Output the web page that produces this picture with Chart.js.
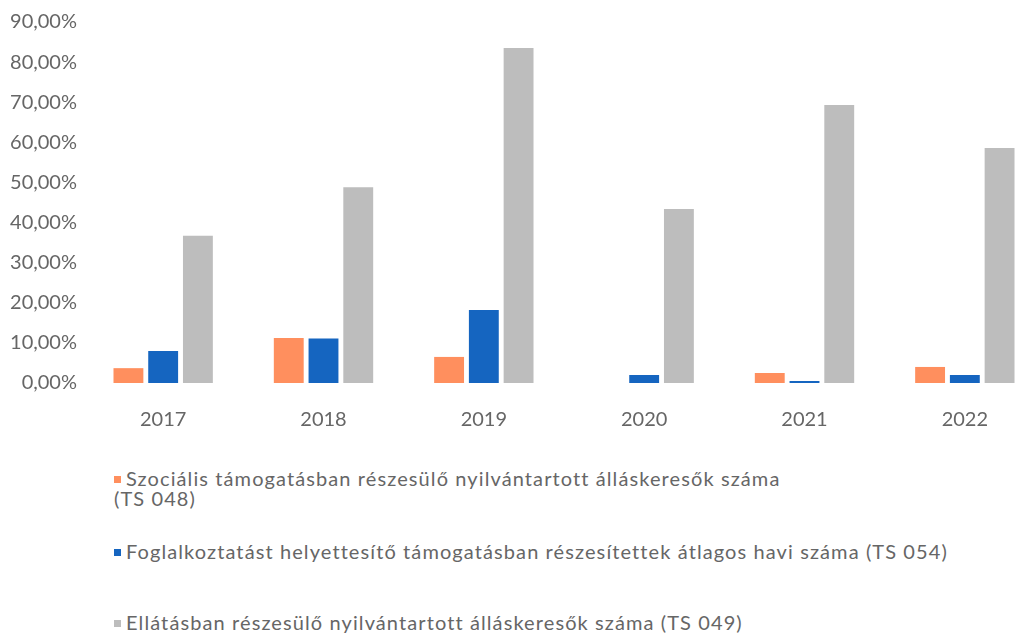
<!DOCTYPE html>
<html>
<head>
<meta charset="utf-8">
<script src="https://cdn.jsdelivr.net/npm/chart.js@4.4.0/dist/chart.umd.min.js"></script>
<style>
  html, body { margin: 0; padding: 0; background: #fff; overflow: hidden; }
  body { width: 1015px; height: 636px; position: relative; font-family: Lato, "Open Sans", sans-serif; }
  #wrap { position: absolute; left: 0; top: 0; width: 1045px; height: 440px; }
  .leg { position: absolute; left: 114px; color: #666; font-size: 20px; line-height: 20px; letter-spacing: 1.1px; white-space: nowrap; }
  .leg i { display: inline-block; width: 7px; height: 7px; margin-right: 5px; vertical-align: 3px; }
</style>
</head>
<body>
<div id="wrap"><canvas id="chart"></canvas></div>
<div id="legend"></div>
<script>
// Data
const years = ['2017', '2018', '2019', '2020', '2021', '2022'];
const seriesNames = [
  'Szociális támogatásban részesülő nyilvántartott álláskeresők száma<br>(TS 048)',
  'Foglalkoztatást helyettesítő támogatásban részesítettek átlagos havi száma (TS 054)',
  'Ellátásban részesülő nyilvántartott álláskeresők száma (TS 049)'
];
const ts048 = [3.7, 11.2, 6.5, 0, 2.5, 4.0];
const ts054 = [8.0, 11.1, 18.2, 2.0, 0.5, 2.0];
const ts049 = [36.7, 48.8, 83.5, 43.4, 69.3, 58.6];
const yTicks = [0, 10, 20, 30, 40, 50, 60, 70, 80, 90];

const colors = ['#FF8F5E', '#1565C0', '#BDBDBD'];
const legendTops = [468, 541, 612];

// build legend
const legendDiv = document.getElementById('legend');
seriesNames.forEach((name, i) => {
  const d = document.createElement('div');
  d.className = 'leg';
  d.style.top = legendTops[i] + 'px';
  d.innerHTML = `<i style="background:${colors[i]}"></i>${name}`;
  legendDiv.appendChild(d);
});

const ctx = document.getElementById('chart').getContext('2d');
new Chart(ctx, {
  type: 'bar',
  data: {
    labels: years,
    datasets: [
      { label: 'TS 048', data: ts048, backgroundColor: colors[0] },
      { label: 'TS 054', data: ts054, backgroundColor: colors[1] },
      { label: 'TS 049', data: ts049, backgroundColor: colors[2] }
    ]
  },
  options: {
    responsive: true,
    maintainAspectRatio: false,
    animation: false,
    layout: { padding: { top: 22, left: 0, right: 0, bottom: 0 } },
    datasets: { bar: { categoryPercentage: 0.65, barPercentage: 0.86 } },
    plugins: { legend: { display: false }, tooltip: { enabled: false } },
    scales: {
      x: {
        grid: { display: false, drawTicks: false },
        border: { display: false },
        ticks: { color: '#666', font: { family: 'Lato', size: 20 }, padding: 25 },
        afterFit: s => { s.height = 57; }
      },
      y: {
        min: 0,
        max: 90,
        grid: { display: false, drawTicks: false },
        border: { display: false },
        afterBuildTicks: s => { s.ticks = yTicks.map(v => ({ value: v })); },
        ticks: {
          color: '#666',
          font: { family: 'Lato', size: 20 },
          padding: 6,
          callback: v => v.toFixed(2).replace('.', ',') + '%'
        },
        afterFit: s => { s.width = 83; }
      }
    }
  }
});
</script>
</body>
</html>
